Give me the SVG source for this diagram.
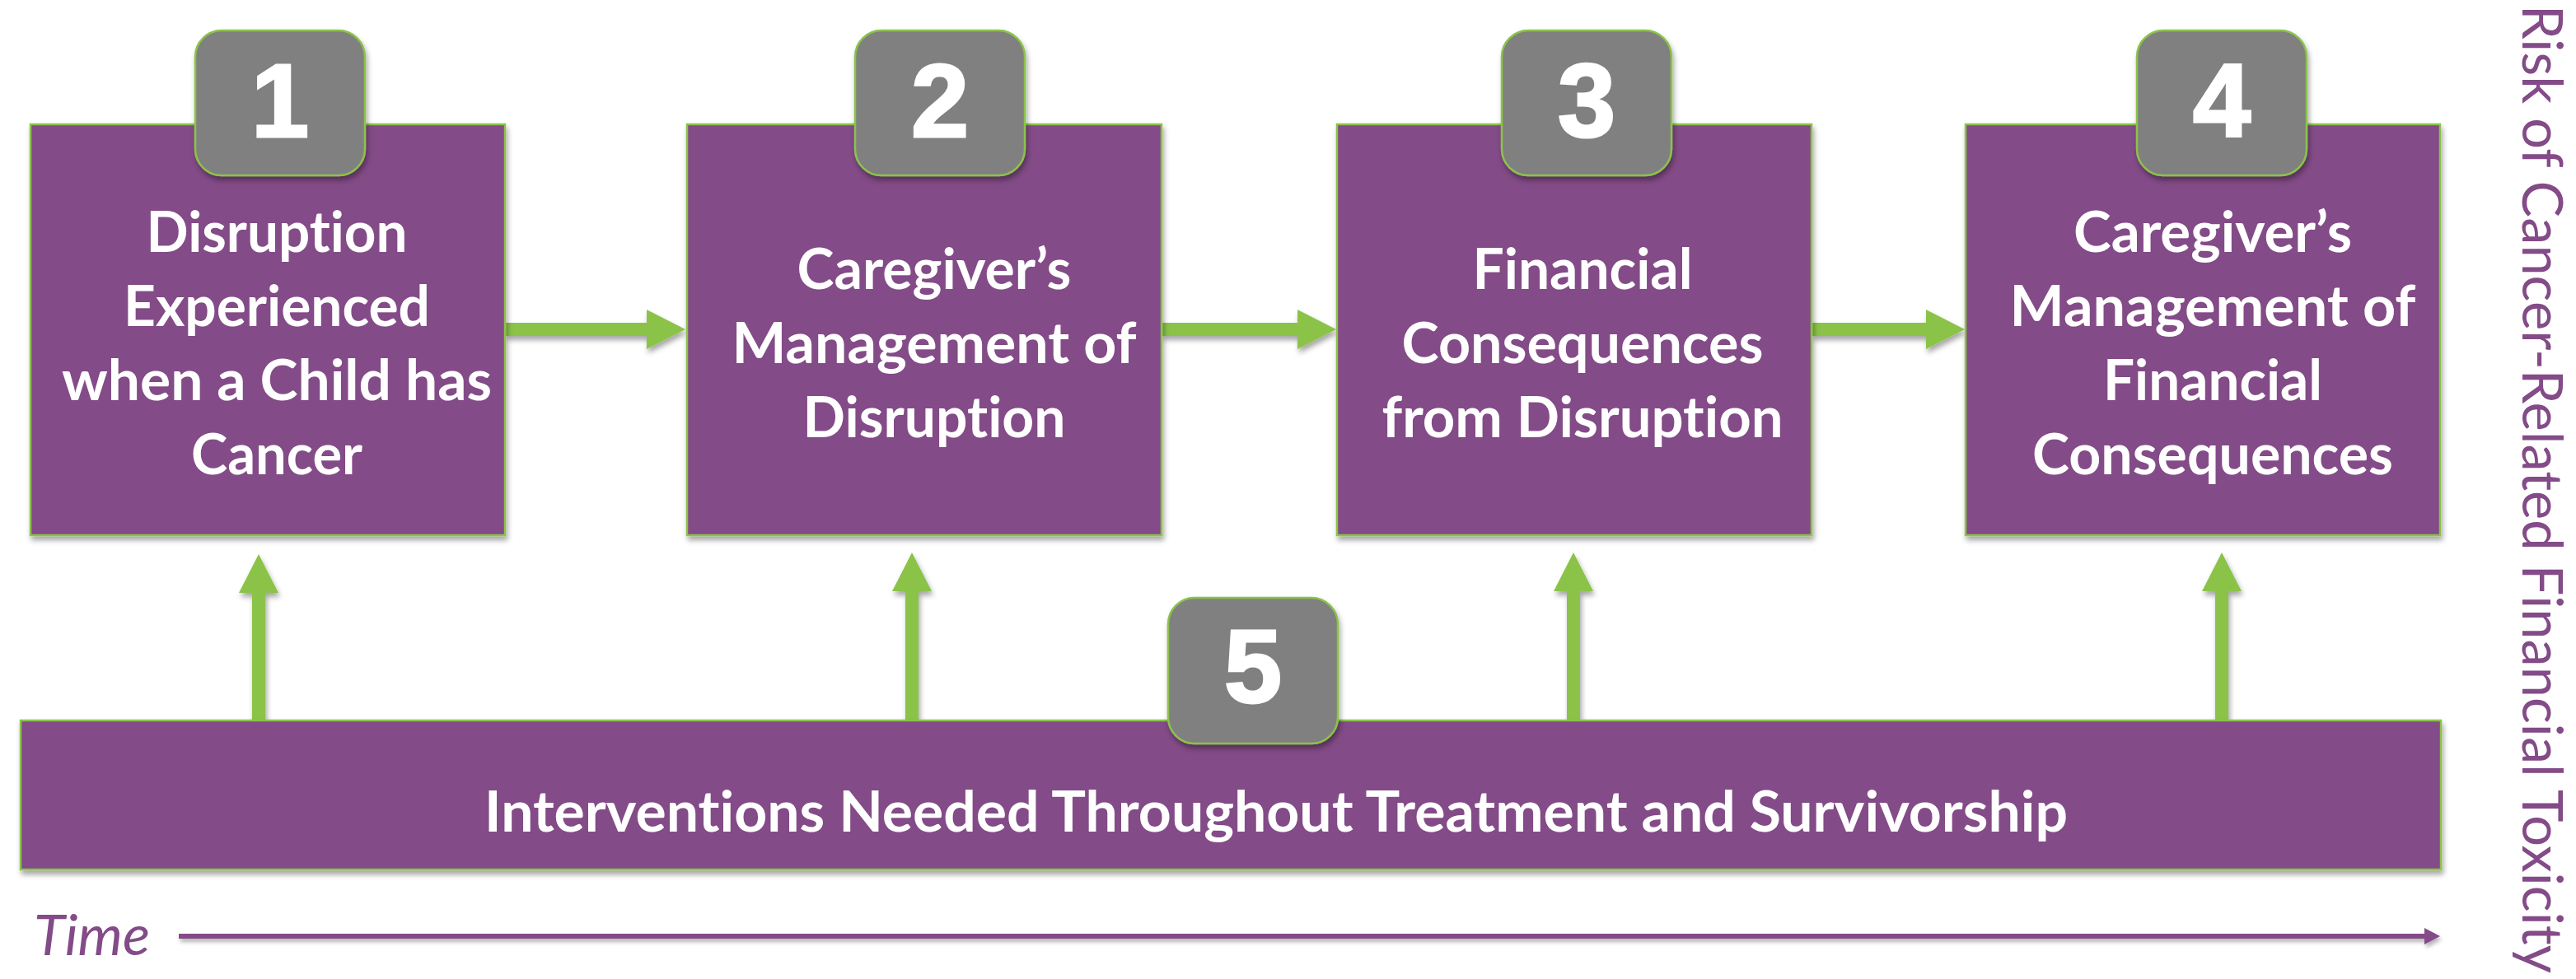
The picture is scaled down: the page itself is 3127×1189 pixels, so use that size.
<svg xmlns="http://www.w3.org/2000/svg" width="3127" height="1189" viewBox="0 0 3127 1189">
  <style>
    text { font-variant-ligatures: none; }
    .box { fill: #834B87; stroke: #8BC34A; stroke-width: 2.5; }
    .badge { fill: #808080; stroke: #8BC34A; stroke-width: 2.5; }
    .num { font-family: "Liberation Sans", Arial, sans-serif; font-weight: 700; font-size: 126px; fill: #ffffff; stroke: #ffffff; stroke-width: 3; text-anchor: middle; }
    .lbl { font-family: Lato, "Open Sans", sans-serif; font-weight: 700; font-size: 68px; fill: #ffffff; text-anchor: middle; }
    .flow { stroke: #8BC34A; stroke-width: 16; fill: none; }
    .time { stroke: #834B87; stroke-width: 6; fill: none; }
    .timelbl { font-family: Lato, "Open Sans", sans-serif; font-style: italic; font-size: 68px; fill: #834B87; }
    .side { font-family: Lato, "Open Sans", sans-serif; font-weight: 400; font-size: 68px; fill: #834B87; }
  </style>
  <defs>
    <filter id="shadow" x="-10%" y="-10%" width="120%" height="130%">
      <feDropShadow dx="2" dy="5" stdDeviation="3" flood-color="#000000" flood-opacity="0.35"/>
    </filter>
    <filter id="lineshadow" filterUnits="userSpaceOnUse" x="200" y="1110" width="2790" height="60">
      <feDropShadow dx="2" dy="4" stdDeviation="2.5" flood-color="#000000" flood-opacity="0.3"/>
    </filter>
    <marker id="head" markerUnits="userSpaceOnUse" viewBox="0 0 47 48" markerWidth="47" markerHeight="48" refX="1" refY="24" orient="auto">
      <path d="M0,0 L47,24 L0,48 Z" fill="#8BC34A"/>
    </marker>
    <marker id="timehead" markerUnits="userSpaceOnUse" viewBox="0 0 19 20" markerWidth="19" markerHeight="20" refX="1" refY="10" orient="auto">
      <path d="M0,0 L19,10 L0,20 Z" fill="#834B87"/>
    </marker>
  </defs>

  <rect width="3127" height="1189" fill="#ffffff"/>

  <!-- connectors -->
  <g id="connectors" filter="url(#shadow)">
    <line class="flow" x1="613" y1="400" x2="786" y2="400" marker-end="url(#head)"/>
    <line class="flow" x1="1410" y1="400" x2="1576" y2="400" marker-end="url(#head)"/>
    <line class="flow" x1="2199" y1="400" x2="2339" y2="400" marker-end="url(#head)"/>
    <line class="flow" x1="314" y1="876" x2="314" y2="719" marker-end="url(#head)"/>
    <line class="flow" x1="1107" y1="876" x2="1107" y2="717" marker-end="url(#head)"/>
    <line class="flow" x1="1910" y1="876" x2="1910" y2="717" marker-end="url(#head)"/>
    <line class="flow" x1="2697" y1="876" x2="2697" y2="717" marker-end="url(#head)"/>
  </g>

  <!-- step 1 -->
  <g id="node1">
    <rect class="box" x="37" y="151" width="576" height="499" filter="url(#shadow)"/>
    <rect class="badge" x="237" y="37" width="206" height="176" rx="32" filter="url(#shadow)"/>
    <text class="num" x="340" y="166">1</text>
    <text class="lbl" x="336" y="306" textLength="317" lengthAdjust="spacingAndGlyphs">Disruption</text>
    <text class="lbl" x="336" y="396" textLength="372" lengthAdjust="spacingAndGlyphs">Experienced</text>
    <text class="lbl" x="336" y="486" textLength="522" lengthAdjust="spacingAndGlyphs">when a Child has</text>
    <text class="lbl" x="336" y="576" textLength="208" lengthAdjust="spacingAndGlyphs">Cancer</text>
  </g>

  <!-- step 2 -->
  <g id="node2">
    <rect class="box" x="834" y="151" width="576" height="499" filter="url(#shadow)"/>
    <rect class="badge" x="1038" y="37" width="206" height="176" rx="32" filter="url(#shadow)"/>
    <text class="num" x="1141" y="166">2</text>
    <text class="lbl" x="1134" y="351" textLength="333" lengthAdjust="spacingAndGlyphs">Caregiver’s</text>
    <text class="lbl" x="1134" y="441" textLength="491" lengthAdjust="spacingAndGlyphs">Management of</text>
    <text class="lbl" x="1134" y="531" textLength="319" lengthAdjust="spacingAndGlyphs">Disruption</text>
  </g>

  <!-- step 3 -->
  <g id="node3">
    <rect class="box" x="1623" y="151" width="576" height="499" filter="url(#shadow)"/>
    <rect class="badge" x="1823" y="37" width="206" height="176" rx="32" filter="url(#shadow)"/>
    <text class="num" x="1926" y="166">3</text>
    <text class="lbl" x="1921" y="351" textLength="267" lengthAdjust="spacingAndGlyphs">Financial</text>
    <text class="lbl" x="1921" y="441" textLength="439" lengthAdjust="spacingAndGlyphs">Consequences</text>
    <text class="lbl" x="1921" y="531" textLength="487" lengthAdjust="spacingAndGlyphs">from Disruption</text>
  </g>

  <!-- step 4 -->
  <g id="node4">
    <rect class="box" x="2386" y="151" width="576" height="499" filter="url(#shadow)"/>
    <rect class="badge" x="2594" y="37" width="206" height="176" rx="32" filter="url(#shadow)"/>
    <text class="num" x="2697" y="166">4</text>
    <text class="lbl" x="2686" y="306" textLength="338" lengthAdjust="spacingAndGlyphs">Caregiver’s</text>
    <text class="lbl" x="2686" y="396" textLength="493" lengthAdjust="spacingAndGlyphs">Management of</text>
    <text class="lbl" x="2686" y="486" textLength="266" lengthAdjust="spacingAndGlyphs">Financial</text>
    <text class="lbl" x="2686" y="576" textLength="438" lengthAdjust="spacingAndGlyphs">Consequences</text>
  </g>

  <!-- step 5 -->
  <g id="node5">
    <rect class="box" x="25" y="875" width="2938" height="181" filter="url(#shadow)"/>
    <rect class="badge" x="1418" y="726" width="206" height="177" rx="32" filter="url(#shadow)"/>
    <text class="num" x="1521" y="853">5</text>
    <text class="lbl" x="1549" y="1010" textLength="1922" lengthAdjust="spacingAndGlyphs">Interventions Needed Throughout Treatment and Survivorship</text>
  </g>

  <!-- time axis -->
  <g id="timeline">
    <text class="timelbl" x="41" y="1160" textLength="141" lengthAdjust="spacingAndGlyphs">Time</text>
    <line class="time" x1="217" y1="1137" x2="2944" y2="1137" marker-end="url(#timehead)" filter="url(#lineshadow)"/>
  </g>

  <!-- vertical axis label -->
  <g id="risk-label">
    <text class="side" transform="translate(3062,6) rotate(90)" textLength="1176" lengthAdjust="spacingAndGlyphs">Risk of Cancer-Related Financial Toxicity</text>
  </g>
</svg>
